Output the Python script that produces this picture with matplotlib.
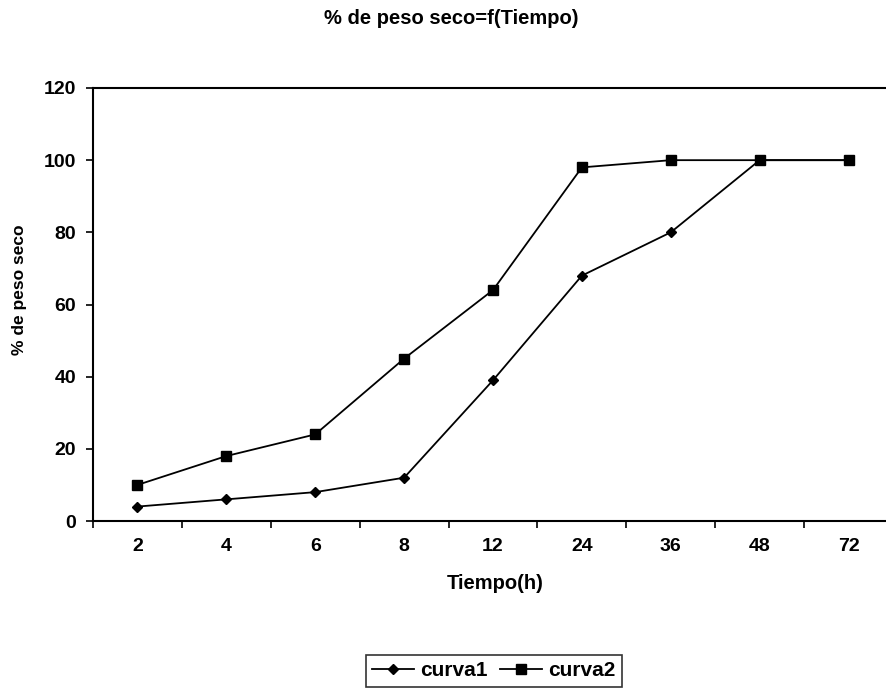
import matplotlib
matplotlib.use("Agg")
import matplotlib.pyplot as plt
import numpy as np

plt.rcParams['font.family'] = ['Liberation Sans', 'DejaVu Sans']
plt.rcParams['font.weight'] = 'bold'

categories = ["2", "4", "6", "8", "12", "24", "36", "48", "72"]
curva1 = [4, 6, 8, 12, 39, 68, 80, 100, 100]
curva2 = [10, 18, 24, 45, 64, 98, 100, 100, 100]
yticks = [0, 20, 40, 60, 80, 100, 120]

fig = plt.figure(figsize=(8.86, 6.89), dpi=100)
ax = fig.add_axes([93/886, 1-521/689, 800/886, (521-88)/689])

x = np.arange(len(categories))
l1, = ax.plot(x, curva1, color='black', lw=1.3, marker='D', markersize=5.5, label='curva1')
l2, = ax.plot(x, curva2, color='black', lw=1.3, marker='s', markersize=7.5, label='curva2')

ax.set_xlim(-0.5, len(categories) - 0.5)
ax.set_ylim(0, 120)
ax.set_yticks(yticks)
ax.set_yticklabels([str(v) for v in yticks], fontsize=14, fontweight='bold')
ax.set_xticks(x)
ax.set_xticklabels(categories, fontsize=14, fontweight='bold')
ax.set_xticks(np.arange(-0.5, len(categories), 1), minor=True)
ax.tick_params(axis='x', which='major', length=0, pad=12)
ax.tick_params(axis='x', which='minor', length=5, direction='out', width=1.2)
ax.tick_params(axis='y', which='major', length=5, direction='out', width=1.2, pad=7)
for s in ax.spines.values():
    s.set_linewidth(1.5)
ax.spines['right'].set_visible(False)

ax.set_xlabel('Tiempo(h)', fontsize=14.5, fontweight='bold')
ax.xaxis.set_label_coords((495-93)/800, (521-574)/433)
ax.set_ylabel('% de peso seco', fontsize=12.5, fontweight='bold')
ax.yaxis.set_label_coords((27-93)/800, (521-290)/433)
fig.text(451/886, 1-18/689, '% de peso seco=f(Tiempo)', ha='center', va='center',
         fontsize=14.5, fontweight='bold')

leg = fig.legend(handles=[l1, l2], loc='upper center', bbox_to_anchor=(494/886, 1-655/689),
                 ncol=2, numpoints=1, frameon=True, fancybox=False, fontsize=15,
                 handlelength=2.0, columnspacing=0.6, handletextpad=0.3, borderpad=0.3,
                 borderaxespad=0)
leg.get_frame().set_edgecolor('black')
leg.get_frame().set_linewidth(1.2)

fig.savefig('out.png', dpi=100)
